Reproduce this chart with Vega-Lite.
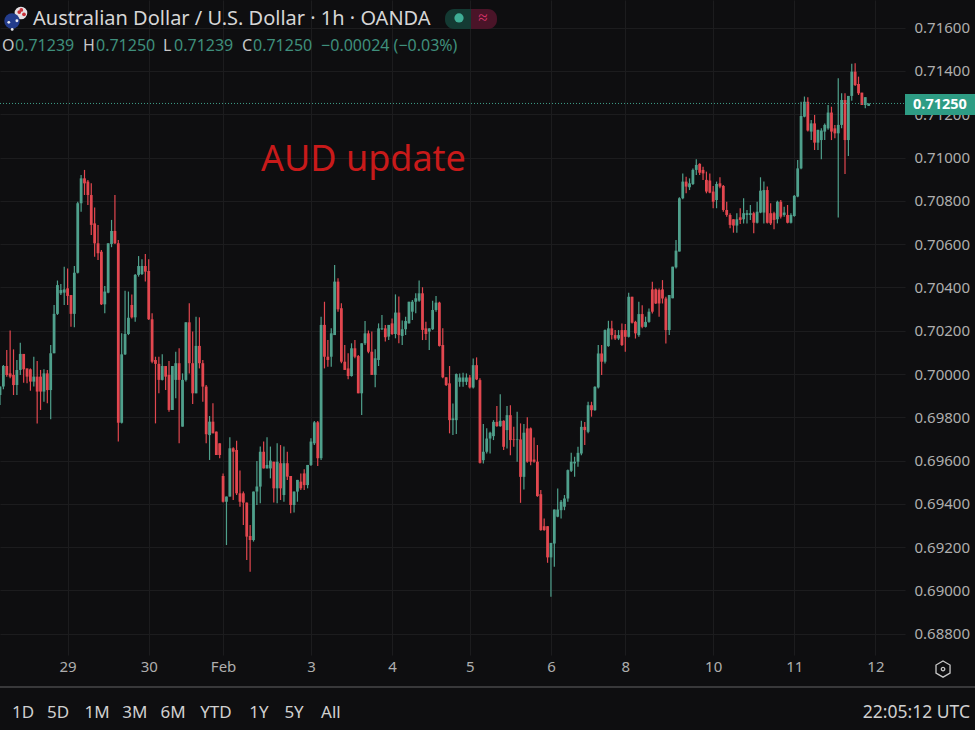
{"$schema":"https://vega.github.io/schema/vega-lite/v6.json","width":905,"height":655,"autosize":{"type":"none"},"padding":{"left":0,"top":0,"right":70,"bottom":75},"background":"#0e0e10","config":{"view":{"stroke":null},"text":{"font":"Noto Sans"},"scale":{"continuousPadding":0}},
"datasets":{"candles":[
{"t":0,"o":0.69903,"h":0.69942,"l":0.69857,"c":0.69942},
{"t":1,"o":0.69942,"h":0.70042,"l":0.6993,"c":0.70037},
{"t":2,"o":0.70037,"h":0.70111,"l":0.69988,"c":0.69996},
{"t":3,"o":0.70003,"h":0.70201,"l":0.6998,"c":0.69988},
{"t":4,"o":0.69996,"h":0.70114,"l":0.69903,"c":0.69949},
{"t":5,"o":0.69949,"h":0.70065,"l":0.69903,"c":0.70019},
{"t":6,"o":0.70019,"h":0.70145,"l":0.69996,"c":0.70093},
{"t":7,"o":0.70093,"h":0.70093,"l":0.6996,"c":0.70022},
{"t":8,"o":0.70026,"h":0.70026,"l":0.69957,"c":0.69988},
{"t":9,"o":0.70022,"h":0.70026,"l":0.69923,"c":0.69965},
{"t":10,"o":0.69965,"h":0.7008,"l":0.69942,"c":0.69988},
{"t":11,"o":0.69988,"h":0.7006,"l":0.69772,"c":0.69919},
{"t":12,"o":0.69988,"h":0.70019,"l":0.69834,"c":0.69919},
{"t":13,"o":0.69919,"h":0.70022,"l":0.69872,"c":0.70003},
{"t":14,"o":0.70003,"h":0.70019,"l":0.69865,"c":0.69926},
{"t":15,"o":0.69926,"h":0.70134,"l":0.69791,"c":0.70096},
{"t":16,"o":0.70096,"h":0.70319,"l":0.70096,"c":0.70278},
{"t":17,"o":0.70278,"h":0.70432,"l":0.70273,"c":0.70411},
{"t":18,"o":0.70373,"h":0.70416,"l":0.70365,"c":0.70388},
{"t":19,"o":0.70376,"h":0.70496,"l":0.70319,"c":0.70391},
{"t":20,"o":0.70396,"h":0.70488,"l":0.70319,"c":0.70361},
{"t":21,"o":0.70365,"h":0.70365,"l":0.70219,"c":0.70278},
{"t":22,"o":0.70278,"h":0.70499,"l":0.70216,"c":0.70468},
{"t":23,"o":0.70468,"h":0.70796,"l":0.70465,"c":0.70789},
{"t":24,"o":0.70789,"h":0.7092,"l":0.7075,"c":0.70904},
{"t":25,"o":0.70904,"h":0.70943,"l":0.70827,"c":0.70881},
{"t":26,"o":0.70889,"h":0.70897,"l":0.70781,"c":0.70827},
{"t":27,"o":0.70827,"h":0.70881,"l":0.70642,"c":0.70689},
{"t":28,"o":0.70696,"h":0.70769,"l":0.70542,"c":0.70604},
{"t":29,"o":0.70604,"h":0.70689,"l":0.70527,"c":0.70558},
{"t":30,"o":0.70565,"h":0.70573,"l":0.70319,"c":0.70322},
{"t":31,"o":0.70322,"h":0.70407,"l":0.70281,"c":0.70381},
{"t":32,"o":0.70376,"h":0.70604,"l":0.70373,"c":0.70604},
{"t":33,"o":0.70601,"h":0.70712,"l":0.70586,"c":0.70661},
{"t":34,"o":0.70661,"h":0.70827,"l":0.70601,"c":0.70604},
{"t":35,"o":0.70604,"h":0.70619,"l":0.69688,"c":0.69775},
{"t":36,"o":0.69775,"h":0.70188,"l":0.69772,"c":0.70091},
{"t":37,"o":0.70091,"h":0.70385,"l":0.70088,"c":0.70185},
{"t":38,"o":0.70185,"h":0.70381,"l":0.7018,"c":0.7026},
{"t":39,"o":0.70319,"h":0.70368,"l":0.70257,"c":0.70262},
{"t":40,"o":0.70262,"h":0.70462,"l":0.70242,"c":0.70458},
{"t":41,"o":0.70458,"h":0.70545,"l":0.7045,"c":0.70499},
{"t":42,"o":0.70462,"h":0.7053,"l":0.70458,"c":0.70499},
{"t":43,"o":0.70499,"h":0.70555,"l":0.70427,"c":0.70473},
{"t":44,"o":0.70476,"h":0.7053,"l":0.7025,"c":0.70253},
{"t":45,"o":0.70253,"h":0.70281,"l":0.7005,"c":0.70057},
{"t":46,"o":0.70065,"h":0.7008,"l":0.69772,"c":0.70047},
{"t":47,"o":0.70047,"h":0.7008,"l":0.69911,"c":0.69973},
{"t":48,"o":0.69973,"h":0.70091,"l":0.6997,"c":0.70037},
{"t":49,"o":0.70037,"h":0.70037,"l":0.69926,"c":0.69988},
{"t":50,"o":0.69996,"h":0.7006,"l":0.69826,"c":0.69834},
{"t":51,"o":0.69834,"h":0.70037,"l":0.69834,"c":0.70037},
{"t":52,"o":0.69973,"h":0.70103,"l":0.69888,"c":0.7005},
{"t":53,"o":0.7005,"h":0.70119,"l":0.6968,"c":0.69973},
{"t":54,"o":0.69757,"h":0.70003,"l":0.69757,"c":0.69973},
{"t":55,"o":0.69973,"h":0.70239,"l":0.69965,"c":0.70239},
{"t":56,"o":0.70239,"h":0.70327,"l":0.70003,"c":0.7005},
{"t":57,"o":0.7005,"h":0.70196,"l":0.69862,"c":0.69911},
{"t":58,"o":0.69911,"h":0.70265,"l":0.69911,"c":0.7013},
{"t":59,"o":0.7013,"h":0.70262,"l":0.70026,"c":0.7005},
{"t":60,"o":0.7005,"h":0.70065,"l":0.69872,"c":0.69942},
{"t":61,"o":0.69942,"h":0.69949,"l":0.6968,"c":0.69722},
{"t":62,"o":0.69718,"h":0.69806,"l":0.69603,"c":0.6978},
{"t":63,"o":0.6978,"h":0.69865,"l":0.69726,"c":0.69726},
{"t":64,"o":0.69734,"h":0.69734,"l":0.69626,"c":0.69626},
{"t":65,"o":0.6968,"h":0.6968,"l":0.69611,"c":0.69626},
{"t":66,"o":0.69529,"h":0.69541,"l":0.69406,"c":0.6941},
{"t":67,"o":0.6941,"h":0.69434,"l":0.6921,"c":0.69434},
{"t":68,"o":0.69434,"h":0.69708,"l":0.69434,"c":0.69657},
{"t":69,"o":0.69657,"h":0.69662,"l":0.69418,"c":0.69641},
{"t":70,"o":0.69649,"h":0.69692,"l":0.69441,"c":0.69449},
{"t":71,"o":0.69449,"h":0.69554,"l":0.69387,"c":0.6941},
{"t":72,"o":0.69449,"h":0.69457,"l":0.69303,"c":0.69406},
{"t":73,"o":0.69406,"h":0.69406,"l":0.69141,"c":0.69249},
{"t":74,"o":0.69252,"h":0.69303,"l":0.69087,"c":0.69233},
{"t":75,"o":0.69233,"h":0.69457,"l":0.69226,"c":0.69457},
{"t":76,"o":0.69457,"h":0.69598,"l":0.69395,"c":0.6948},
{"t":77,"o":0.6948,"h":0.69665,"l":0.69403,"c":0.69641},
{"t":78,"o":0.69641,"h":0.69688,"l":0.69564,"c":0.69564},
{"t":79,"o":0.69564,"h":0.69708,"l":0.69564,"c":0.6958},
{"t":80,"o":0.69564,"h":0.69665,"l":0.69518,"c":0.696},
{"t":81,"o":0.69595,"h":0.69595,"l":0.69406,"c":0.69472},
{"t":82,"o":0.69472,"h":0.6968,"l":0.69403,"c":0.69595},
{"t":83,"o":0.69588,"h":0.69672,"l":0.69418,"c":0.69472},
{"t":84,"o":0.69441,"h":0.69665,"l":0.6941,"c":0.69588},
{"t":85,"o":0.69588,"h":0.69641,"l":0.69511,"c":0.69526},
{"t":86,"o":0.69529,"h":0.69529,"l":0.69357,"c":0.69395},
{"t":87,"o":0.69395,"h":0.69457,"l":0.6936,"c":0.69457},
{"t":88,"o":0.69457,"h":0.69511,"l":0.6941,"c":0.69511},
{"t":89,"o":0.69503,"h":0.69541,"l":0.69464,"c":0.69472},
{"t":90,"o":0.69541,"h":0.6956,"l":0.69464,"c":0.69487},
{"t":91,"o":0.69487,"h":0.6958,"l":0.69472,"c":0.6958},
{"t":92,"o":0.6958,"h":0.69703,"l":0.69575,"c":0.69688},
{"t":93,"o":0.6968,"h":0.69783,"l":0.69672,"c":0.69777},
{"t":94,"o":0.69777,"h":0.69783,"l":0.69575,"c":0.69611},
{"t":95,"o":0.69611,"h":0.70265,"l":0.69603,"c":0.70227},
{"t":96,"o":0.70227,"h":0.70334,"l":0.70026,"c":0.7008},
{"t":97,"o":0.7008,"h":0.70157,"l":0.70034,"c":0.70065},
{"t":98,"o":0.7008,"h":0.70211,"l":0.70034,"c":0.70188},
{"t":99,"o":0.7018,"h":0.70504,"l":0.7018,"c":0.70427},
{"t":100,"o":0.70427,"h":0.70442,"l":0.70288,"c":0.70299},
{"t":101,"o":0.70304,"h":0.70327,"l":0.7005,"c":0.70057},
{"t":102,"o":0.70057,"h":0.70134,"l":0.70019,"c":0.70019},
{"t":103,"o":0.70026,"h":0.70096,"l":0.69976,"c":0.69991},
{"t":104,"o":0.69991,"h":0.70142,"l":0.69988,"c":0.70119},
{"t":105,"o":0.70119,"h":0.70157,"l":0.70073,"c":0.7008},
{"t":106,"o":0.70083,"h":0.70088,"l":0.69911,"c":0.69911},
{"t":107,"o":0.69911,"h":0.70142,"l":0.69811,"c":0.70142},
{"t":108,"o":0.70142,"h":0.70245,"l":0.70134,"c":0.70188},
{"t":109,"o":0.70188,"h":0.70201,"l":0.70096,"c":0.70103},
{"t":110,"o":0.70103,"h":0.70196,"l":0.69996,"c":0.69996},
{"t":111,"o":0.69996,"h":0.70114,"l":0.69939,"c":0.70073},
{"t":112,"o":0.70065,"h":0.70234,"l":0.70037,"c":0.70211},
{"t":113,"o":0.70207,"h":0.70273,"l":0.70204,"c":0.70211},
{"t":114,"o":0.70211,"h":0.70227,"l":0.7015,"c":0.7017},
{"t":115,"o":0.70173,"h":0.70227,"l":0.70157,"c":0.70227},
{"t":116,"o":0.70234,"h":0.70257,"l":0.7018,"c":0.70185},
{"t":117,"o":0.70185,"h":0.70368,"l":0.70165,"c":0.70284},
{"t":118,"o":0.70284,"h":0.70358,"l":0.70142,"c":0.7018},
{"t":119,"o":0.70176,"h":0.70247,"l":0.70134,"c":0.70207},
{"t":120,"o":0.70207,"h":0.70265,"l":0.7018,"c":0.70245},
{"t":121,"o":0.70234,"h":0.70334,"l":0.70234,"c":0.70334},
{"t":122,"o":0.70288,"h":0.70342,"l":0.7025,"c":0.70334},
{"t":123,"o":0.70334,"h":0.70373,"l":0.70281,"c":0.7035},
{"t":124,"o":0.70339,"h":0.70432,"l":0.70334,"c":0.70373},
{"t":125,"o":0.70373,"h":0.70401,"l":0.70157,"c":0.70204},
{"t":126,"o":0.70211,"h":0.70242,"l":0.70157,"c":0.70185},
{"t":127,"o":0.70196,"h":0.70211,"l":0.70111,"c":0.70211},
{"t":128,"o":0.70207,"h":0.70339,"l":0.70204,"c":0.70296},
{"t":129,"o":0.70296,"h":0.70361,"l":0.70288,"c":0.7033},
{"t":130,"o":0.7033,"h":0.70334,"l":0.70127,"c":0.7013},
{"t":131,"o":0.70134,"h":0.70211,"l":0.6998,"c":0.69985},
{"t":132,"o":0.69985,"h":0.69985,"l":0.69945,"c":0.69949},
{"t":133,"o":0.69957,"h":0.70037,"l":0.69726,"c":0.69787},
{"t":134,"o":0.69787,"h":0.69864,"l":0.69718,"c":0.69795},
{"t":135,"o":0.69787,"h":0.70003,"l":0.69723,"c":0.7},
{"t":136,"o":0.69964,"h":0.70003,"l":0.69941,"c":0.69984},
{"t":137,"o":0.69964,"h":0.70006,"l":0.69941,"c":0.69984},
{"t":138,"o":0.69964,"h":0.70003,"l":0.69949,"c":0.69984},
{"t":139,"o":0.69984,"h":0.69995,"l":0.69933,"c":0.69938},
{"t":140,"o":0.69938,"h":0.70072,"l":0.69933,"c":0.70041},
{"t":141,"o":0.70041,"h":0.70077,"l":0.69972,"c":0.69975},
{"t":142,"o":0.69972,"h":0.6998,"l":0.69587,"c":0.6959},
{"t":143,"o":0.69602,"h":0.69769,"l":0.69587,"c":0.69641},
{"t":144,"o":0.69641,"h":0.69749,"l":0.69633,"c":0.69702},
{"t":145,"o":0.69702,"h":0.69733,"l":0.69633,"c":0.69729},
{"t":146,"o":0.69713,"h":0.69787,"l":0.69695,"c":0.69779},
{"t":147,"o":0.69779,"h":0.69852,"l":0.69756,"c":0.69759},
{"t":148,"o":0.69759,"h":0.69907,"l":0.69756,"c":0.69784},
{"t":149,"o":0.69784,"h":0.69787,"l":0.69649,"c":0.69664},
{"t":150,"o":0.69741,"h":0.69852,"l":0.69656,"c":0.6981},
{"t":151,"o":0.6981,"h":0.69856,"l":0.69625,"c":0.69695},
{"t":152,"o":0.69698,"h":0.69756,"l":0.69664,"c":0.69695},
{"t":153,"o":0.69695,"h":0.69826,"l":0.69595,"c":0.69698},
{"t":154,"o":0.69698,"h":0.69772,"l":0.69405,"c":0.69525},
{"t":155,"o":0.69525,"h":0.69769,"l":0.69467,"c":0.69729},
{"t":156,"o":0.69749,"h":0.698,"l":0.6959,"c":0.69595},
{"t":157,"o":0.69749,"h":0.69753,"l":0.69579,"c":0.69595},
{"t":158,"o":0.69605,"h":0.69707,"l":0.6959,"c":0.69595},
{"t":159,"o":0.69595,"h":0.69672,"l":0.69433,"c":0.69436},
{"t":160,"o":0.69445,"h":0.69464,"l":0.69276,"c":0.69279},
{"t":161,"o":0.69297,"h":0.69333,"l":0.69276,"c":0.69279},
{"t":162,"o":0.69297,"h":0.69297,"l":0.69128,"c":0.69153},
{"t":163,"o":0.69153,"h":0.6922,"l":0.68971,"c":0.6922},
{"t":164,"o":0.69217,"h":0.69374,"l":0.6911,"c":0.69374},
{"t":165,"o":0.69341,"h":0.69471,"l":0.69338,"c":0.69374},
{"t":166,"o":0.69371,"h":0.69418,"l":0.69333,"c":0.6941},
{"t":167,"o":0.69387,"h":0.69441,"l":0.69371,"c":0.69425},
{"t":168,"o":0.69425,"h":0.69559,"l":0.6941,"c":0.69556},
{"t":169,"o":0.69553,"h":0.69636,"l":0.69548,"c":0.69595},
{"t":170,"o":0.69587,"h":0.69618,"l":0.69525,"c":0.69595},
{"t":171,"o":0.69595,"h":0.69664,"l":0.69572,"c":0.69636},
{"t":172,"o":0.69633,"h":0.69784,"l":0.69625,"c":0.69756},
{"t":173,"o":0.69756,"h":0.69779,"l":0.69672,"c":0.69741},
{"t":174,"o":0.69733,"h":0.69872,"l":0.69726,"c":0.69856},
{"t":175,"o":0.69856,"h":0.69872,"l":0.69803,"c":0.69833},
{"t":176,"o":0.69833,"h":0.69944,"l":0.6983,"c":0.69941},
{"t":177,"o":0.69938,"h":0.70134,"l":0.69933,"c":0.70095},
{"t":178,"o":0.70095,"h":0.70134,"l":0.69995,"c":0.70057},
{"t":179,"o":0.70057,"h":0.70206,"l":0.70049,"c":0.70203},
{"t":180,"o":0.70129,"h":0.70246,"l":0.70126,"c":0.70211},
{"t":181,"o":0.70211,"h":0.70246,"l":0.7016,"c":0.7018},
{"t":182,"o":0.7018,"h":0.70203,"l":0.70157,"c":0.70164},
{"t":183,"o":0.70164,"h":0.70203,"l":0.70157,"c":0.7018},
{"t":184,"o":0.70203,"h":0.70234,"l":0.70129,"c":0.70134},
{"t":185,"o":0.70203,"h":0.70231,"l":0.70103,"c":0.70172},
{"t":186,"o":0.70172,"h":0.70375,"l":0.70169,"c":0.70357},
{"t":187,"o":0.70357,"h":0.70357,"l":0.70234,"c":0.70237},
{"t":188,"o":0.70241,"h":0.70246,"l":0.70164,"c":0.70188},
{"t":189,"o":0.7018,"h":0.70334,"l":0.70172,"c":0.70277},
{"t":190,"o":0.70277,"h":0.70318,"l":0.70211,"c":0.70218},
{"t":191,"o":0.70218,"h":0.70265,"l":0.70215,"c":0.70241},
{"t":192,"o":0.70241,"h":0.70303,"l":0.70237,"c":0.70288},
{"t":193,"o":0.70391,"h":0.70426,"l":0.7028,"c":0.70288},
{"t":194,"o":0.70391,"h":0.70395,"l":0.70323,"c":0.70326},
{"t":195,"o":0.70388,"h":0.70395,"l":0.70265,"c":0.70326},
{"t":196,"o":0.70391,"h":0.70434,"l":0.70326,"c":0.70349},
{"t":197,"o":0.70349,"h":0.70357,"l":0.70141,"c":0.70203},
{"t":198,"o":0.70203,"h":0.70365,"l":0.7018,"c":0.70365},
{"t":199,"o":0.7035,"h":0.70496,"l":0.7035,"c":0.70496},
{"t":200,"o":0.70493,"h":0.70619,"l":0.70488,"c":0.7057},
{"t":201,"o":0.70566,"h":0.70817,"l":0.70566,"c":0.70812},
{"t":202,"o":0.70812,"h":0.70927,"l":0.70807,"c":0.70889},
{"t":203,"o":0.70889,"h":0.70912,"l":0.70835,"c":0.70866},
{"t":204,"o":0.70863,"h":0.70904,"l":0.7085,"c":0.70881},
{"t":205,"o":0.70878,"h":0.7095,"l":0.70873,"c":0.70943},
{"t":206,"o":0.70943,"h":0.70992,"l":0.7092,"c":0.70966},
{"t":207,"o":0.70971,"h":0.70974,"l":0.7092,"c":0.7093},
{"t":208,"o":0.70943,"h":0.70958,"l":0.70897,"c":0.70927},
{"t":209,"o":0.70897,"h":0.70935,"l":0.70835,"c":0.70843},
{"t":210,"o":0.70894,"h":0.70927,"l":0.70835,"c":0.70838},
{"t":211,"o":0.70843,"h":0.70869,"l":0.70766,"c":0.70796},
{"t":212,"o":0.70804,"h":0.70889,"l":0.70766,"c":0.70878},
{"t":213,"o":0.70881,"h":0.70909,"l":0.70858,"c":0.70866},
{"t":214,"o":0.70869,"h":0.70873,"l":0.7075,"c":0.70758},
{"t":215,"o":0.70758,"h":0.70796,"l":0.70727,"c":0.70735},
{"t":216,"o":0.70735,"h":0.70743,"l":0.70673,"c":0.70689},
{"t":217,"o":0.70715,"h":0.70715,"l":0.70653,"c":0.70686},
{"t":218,"o":0.70686,"h":0.70743,"l":0.70653,"c":0.70715},
{"t":219,"o":0.70724,"h":0.70766,"l":0.70693,"c":0.70712},
{"t":220,"o":0.70715,"h":0.70812,"l":0.70696,"c":0.70743},
{"t":221,"o":0.70735,"h":0.70758,"l":0.70696,"c":0.70743},
{"t":222,"o":0.70735,"h":0.70781,"l":0.70712,"c":0.70743},
{"t":223,"o":0.70743,"h":0.7075,"l":0.7065,"c":0.70699},
{"t":224,"o":0.70699,"h":0.70796,"l":0.70696,"c":0.7075},
{"t":225,"o":0.70746,"h":0.70909,"l":0.70743,"c":0.70847},
{"t":226,"o":0.70746,"h":0.70889,"l":0.70696,"c":0.7085},
{"t":227,"o":0.7085,"h":0.70866,"l":0.70696,"c":0.70699},
{"t":228,"o":0.70743,"h":0.70789,"l":0.70689,"c":0.70696},
{"t":229,"o":0.70743,"h":0.7075,"l":0.70669,"c":0.70712},
{"t":230,"o":0.70715,"h":0.70801,"l":0.70696,"c":0.70796},
{"t":231,"o":0.70796,"h":0.70804,"l":0.70719,"c":0.70727},
{"t":232,"o":0.70735,"h":0.70773,"l":0.70727,"c":0.70746},
{"t":233,"o":0.70735,"h":0.70781,"l":0.70696,"c":0.70699},
{"t":234,"o":0.70699,"h":0.70743,"l":0.70696,"c":0.70735},
{"t":235,"o":0.7073,"h":0.70827,"l":0.70727,"c":0.70823},
{"t":236,"o":0.7082,"h":0.70989,"l":0.70817,"c":0.7095},
{"t":237,"o":0.7095,"h":0.71258,"l":0.70946,"c":0.71192},
{"t":238,"o":0.71189,"h":0.71282,"l":0.71186,"c":0.71258},
{"t":239,"o":0.71258,"h":0.71279,"l":0.7112,"c":0.71125},
{"t":240,"o":0.7112,"h":0.71174,"l":0.71081,"c":0.71158},
{"t":241,"o":0.71158,"h":0.71197,"l":0.71035,"c":0.71069},
{"t":242,"o":0.71069,"h":0.71128,"l":0.71035,"c":0.71128},
{"t":243,"o":0.71081,"h":0.71135,"l":0.70992,"c":0.71125},
{"t":244,"o":0.7112,"h":0.71158,"l":0.71081,"c":0.71151},
{"t":245,"o":0.71135,"h":0.71243,"l":0.71128,"c":0.71208},
{"t":246,"o":0.71208,"h":0.71235,"l":0.71081,"c":0.7112},
{"t":247,"o":0.71135,"h":0.71151,"l":0.71089,"c":0.71112},
{"t":248,"o":0.71112,"h":0.71366,"l":0.70723,"c":0.71151},
{"t":249,"o":0.71151,"h":0.71297,"l":0.71135,"c":0.71266},
{"t":250,"o":0.71266,"h":0.71297,"l":0.70924,"c":0.71081},
{"t":251,"o":0.71081,"h":0.71285,"l":0.71007,"c":0.71285},
{"t":252,"o":0.71285,"h":0.71433,"l":0.71263,"c":0.71397},
{"t":253,"o":0.71397,"h":0.71436,"l":0.71331,"c":0.71335},
{"t":254,"o":0.7134,"h":0.71374,"l":0.71289,"c":0.71297},
{"t":255,"o":0.713,"h":0.713,"l":0.71243,"c":0.71243},
{"t":256,"o":0.71243,"h":0.71279,"l":0.71228,"c":0.71279},
{"t":257,"o":0.71239,"h":0.7125,"l":0.71239,"c":0.7125}
]},
"encoding":{"x":{"field":"t","type":"quantitative","title":null,"scale":{"domain":[0,267.75],"nice":false,"zero":false,"padding":0},
"axis":{"orient":"bottom","values":[20,44,66,92,116,139,163,185,211,235,259],"labelExpr":"{'20':'29','44':'30','66':'Feb','92':'3','116':'4','139':'5','163':'6','185':'8','211':'10','235':'11','259':'12'}[datum.value]","grid":true,"gridColor":"#1c1c1e","gridWidth":1,"domain":false,"ticks":false,"labelColor":"#aeaeae","labelFont":"Noto Sans","labelFontSize":15,"labelPadding":4,"labelFlush":false,"labelOverlap":false,"zindex":0,"title":null}},
"y":{"field":"p","type":"quantitative","title":null,"scale":{"domain":[0.68702,0.71728],"nice":false,"zero":false},
"axis":{"orient":"right","values":[0.688,0.69,0.692,0.694,0.696,0.698,0.7,0.702,0.704,0.706,0.708,0.71,0.712,0.714,0.716],"format":".5f","grid":true,"gridColor":"#1c1c1e","gridWidth":1,"domain":false,"ticks":false,"labelColor":"#aeaeae","labelFont":"Noto Sans","labelFontSize":15,"labelPadding":9,"labelOverlap":false,"zindex":0,"title":null}}},
"layer":[
{"data":{"name":"candles"},"mark":{"type":"rule","strokeWidth":1.2},
"encoding":{"y":{"field":"l","type":"quantitative","title":null,"scale":{"domain":[0.68702,0.71728],"nice":false,"zero":false},
"axis":{"orient":"right","values":[0.688,0.69,0.692,0.694,0.696,0.698,0.7,0.702,0.704,0.706,0.708,0.71,0.712,0.714,0.716],"format":".5f","grid":true,"gridColor":"#1c1c1e","gridWidth":1,"domain":false,"ticks":false,"labelColor":"#aeaeae","labelFont":"Noto Sans","labelFontSize":15,"labelPadding":9,"labelOverlap":false,"zindex":0,"title":null}},
"y2":{"field":"h"},"color":{"condition":{"test":"datum.c>=datum.o","value":"#4fa08c"},"value":"#e2474f"}}},
{"data":{"name":"candles"},"mark":{"type":"bar","size":2.8,"orient":"vertical"},
"encoding":{"y":{"field":"o","type":"quantitative","title":null,"scale":{"domain":[0.68702,0.71728],"nice":false,"zero":false},
"axis":{"orient":"right","values":[0.688,0.69,0.692,0.694,0.696,0.698,0.7,0.702,0.704,0.706,0.708,0.71,0.712,0.714,0.716],"format":".5f","grid":true,"gridColor":"#1c1c1e","gridWidth":1,"domain":false,"ticks":false,"labelColor":"#aeaeae","labelFont":"Noto Sans","labelFontSize":15,"labelPadding":9,"labelOverlap":false,"zindex":0,"title":null}},
"y2":{"field":"c"},"color":{"condition":{"test":"datum.c>=datum.o","value":"#4fa08c"},"value":"#e2474f"}}},
{"data":{"values":[{"t":0,"p":0.7125,"e":267.75}]},"mark":{"type":"rule","stroke":"#3f9e88","strokeDash":[1,2],"strokeWidth":1},"encoding":{"x2":{"field":"e"}}},
{"data":{"values":[{"t":0,"p":0.68554,"e":288.46}]},"mark":{"type":"rule","stroke":"#38383a","strokeWidth":2},"encoding":{"x2":{"field":"e"}}},
{"data":{"values":[{"t":267.75,"e":288.46,"p":0.71294,"q":0.71197}]},"mark":{"type":"rect","fill":"#2e9c84"},"encoding":{"x2":{"field":"e"},"y2":{"field":"q"}}},
{"data":{"values":[{"t":278.1,"p":0.71245,"label":"0.71250"}]},"mark":{"type":"text","color":"#ffffff","font":"Noto Sans","fontSize":14.5,"fontWeight":"bold","align":"center","baseline":"middle"},"encoding":{"text":{"field":"label"}}},
{"data":{"values":[{"t":77.2,"p":0.70989,"label":"AUD update"}]},"mark":{"type":"text","color":"#c81a1a","font":"Noto Sans","fontSize":36,"align":"left","baseline":"middle"},"encoding":{"text":{"field":"label"}}},
{"data":{"values":[{"t":9.76,"p":0.7164,"label":"Australian Dollar / U.S. Dollar · 1h · OANDA"}]},"mark":{"type":"text","color":"#d6d6d6","font":"Noto Sans","fontSize":20,"align":"left","baseline":"middle"},"encoding":{"text":{"field":"label"}}},
{"data":{"values":[{"t":0.6,"p":0.71515,"label":"O"},{"t":24.56,"p":0.71515,"label":"H"},{"t":48.2,"p":0.71515,"label":"L"},{"t":71.6,"p":0.71515,"label":"C"}]},"mark":{"type":"text","color":"#c8c8c8","font":"Noto Sans","fontSize":16,"align":"left","baseline":"middle"},"encoding":{"text":{"field":"label"}}},
{"data":{"values":[{"t":4.44,"p":0.71515,"label":"0.71239"},{"t":28.4,"p":0.71515,"label":"0.71250"},{"t":51.5,"p":0.71515,"label":"0.71239"},{"t":74.85,"p":0.71515,"label":"0.71250"},{"t":95,"p":0.71515,"label":"−0.00024 (−0.03%)"}]},"mark":{"type":"text","color":"#3f8f7c","font":"Noto Sans","fontSize":16,"align":"left","baseline":"middle"},"encoding":{"text":{"field":"label"}}},
{"data":{"values":[{"t":131.66,"e":139.35,"p":0.71686,"q":0.71594}]},"mark":{"type":"rect","fill":"#143a33","cornerRadiusTopLeft":9,"cornerRadiusBottomLeft":9},"encoding":{"x2":{"field":"e"},"y2":{"field":"q"}}},
{"data":{"values":[{"t":139.35,"e":147.04,"p":0.71686,"q":0.71594}]},"mark":{"type":"rect","fill":"#4a1428","cornerRadiusTopRight":9,"cornerRadiusBottomRight":9},"encoding":{"x2":{"field":"e"},"y2":{"field":"q"}}},
{"data":{"values":[{"t":135.8,"p":0.71645}]},"mark":{"type":"point","shape":"circle","filled":true,"fill":"#3fae96","opacity":1,"size":85}},
{"data":{"values":[{"t":142.9,"p":0.71645,"label":"≈"}]},"mark":{"type":"text","color":"#d8336a","font":"Noto Sans","fontSize":17,"align":"center","baseline":"middle"},"encoding":{"text":{"field":"label"}}},
{"data":{"values":[{"t":6.2,"p":0.71668}]},"mark":{"type":"point","shape":"circle","filled":true,"fill":"#e4e0e4","opacity":1,"size":160}},
{"data":{"values":[{"t":6.3,"p":0.71682},{"t":5.7,"p":0.71672},{"t":7.1,"p":0.71662}]},"mark":{"type":"point","shape":"circle","filled":true,"fill":"#c83038","opacity":1,"size":14}},
{"data":{"values":[{"t":3.55,"p":0.71631}]},"mark":{"type":"point","shape":"circle","filled":true,"fill":"#233c8c","opacity":1,"size":240}},
{"data":{"values":[{"t":3.6,"p":0.71592},{"t":2.6,"p":0.71625},{"t":5,"p":0.71632}]},"mark":{"type":"point","shape":"circle","filled":true,"fill":"#e8e8ee","opacity":1,"size":8}},
{"data":{"values":[{"t":6.8,"p":0.68434,"label":"1D"},{"t":17.2,"p":0.68434,"label":"5D"},{"t":28.7,"p":0.68434,"label":"1M"},{"t":39.9,"p":0.68434,"label":"3M"},{"t":51.2,"p":0.68434,"label":"6M"},{"t":63.9,"p":0.68434,"label":"YTD"},{"t":76.6,"p":0.68434,"label":"1Y"},{"t":87,"p":0.68434,"label":"5Y"},{"t":97.9,"p":0.68434,"label":"All"}]},"mark":{"type":"text","color":"#d0d0d0","font":"Noto Sans","fontSize":17,"align":"center","baseline":"middle"},"encoding":{"text":{"field":"label"}}},
{"data":{"values":[{"t":287,"p":0.68434,"label":"22:05:12 UTC"}]},"mark":{"type":"text","color":"#d0d0d0","font":"Noto Sans","fontSize":17.5,"align":"right","baseline":"middle"},"encoding":{"text":{"field":"label"}}},
{"data":{"values":[{"t":279,"p":0.68637}]},"mark":{"type":"point","shape":"M0,-1L0.87,-0.5L0.87,0.5L0,1L-0.87,0.5L-0.87,-0.5Z","filled":false,"stroke":"#c8c8c8","strokeWidth":1.3,"opacity":1,"size":260}},
{"data":{"values":[{"t":279,"p":0.68637}]},"mark":{"type":"point","shape":"circle","filled":false,"stroke":"#c8c8c8","strokeWidth":1.3,"opacity":1,"size":12}}
]}
